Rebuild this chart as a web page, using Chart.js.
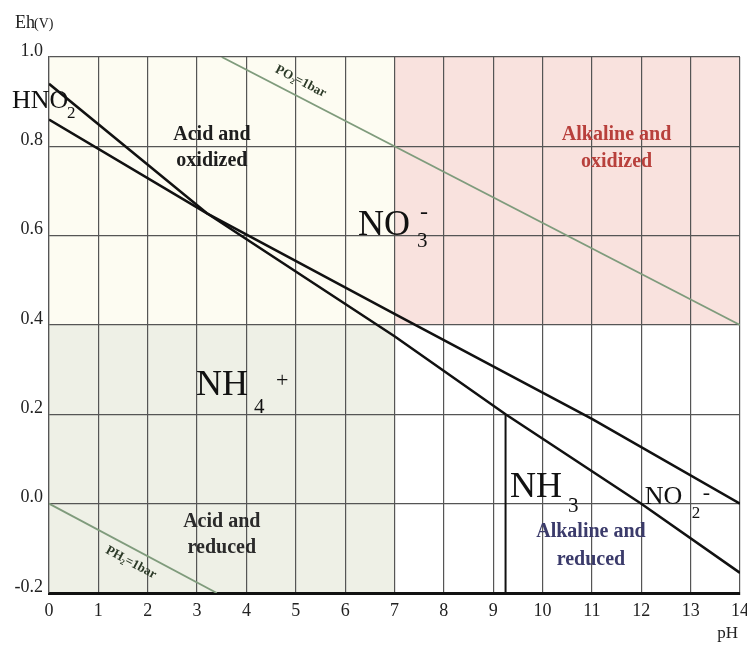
<!DOCTYPE html>
<html>
<head>
<meta charset="utf-8">
<script src="https://cdn.jsdelivr.net/npm/chart.js@4.4.1/dist/chart.umd.min.js"></script>
<style>
  body { margin: 0; background: #fff; }
  #wrap { width: 747px; height: 646px; }
</style>
</head>
<body>
<div id="wrap"><canvas id="eh" width="747" height="646"></canvas></div>
<script>
// tick labels
const phLabels = ["0", "1", "2", "3", "4", "5", "6", "7", "8", "9", "10", "11", "12", "13", "14"];
const ehLabels = ["-0.2", "0.0", "0.2", "0.4", "0.6", "0.8", "1.0"];

// NO3- boundary (NO3-/HNO2 ... NO3-/NO2-)
const nitratePh = [0, 3.2, 7, 11, 14];
const nitrateEh = [0.86, 0.65, 0.425, 0.19, 0.0];
// HNO2 / NH4+ / NO2- / NH3 boundary
const nitritePh = [0, 3.2, 7, 9.25, 12, 14];
const nitriteEh = [0.94, 0.65, 0.375, 0.2, 0.0, -0.155];
// NH4+ / NH3
const ammoniaPh = [9.25, 9.25];
const ammoniaEh = [-0.2, 0.2];
// water limits
const o2Ph = [3.5, 14];
const o2Eh = [1.0, 0.4];
const h2Ph = [0, 3.4];
const h2Eh = [0.0, -0.2];

const zones = [
  { ph: [0, 7], eh: [0.4, 1.0], color: "#fdfcf2" },
  { ph: [0, 7], eh: [-0.2, 0.4], color: "#eef0e6" },
  { ph: [7, 14], eh: [0.4, 1.0], color: "#f9e2de" },
];

const regionText = [
  { lines: ["Acid and", "oxidized"], ph: 3.3, eh: 0.825, gap: 26, color: "#1e1e1e" },
  { lines: ["Acid and", "reduced"], ph: 3.5, eh: -0.041, gap: 26, color: "#2a2a2a" },
  { lines: ["Alkaline and", "oxidized"], ph: 11.5, eh: 0.825, gap: 27, color: "#b8403c" },
  { lines: ["Alkaline and", "reduced"], ph: 10.98, eh: -0.063, gap: 28, color: "#3b3b6b" },
];

const species = [
  { ph: 6.26, eh: 0.601, parts: [["NO", 0, 0, 36], ["3", 59, 12, 21], ["-", 62, -16, 24]] },
  { ph: 2.98, eh: 0.243, parts: [["NH", 0, 0, 36], ["4", 58, 18, 21], ["+", 80, -8, 22]] },
  { ph: 9.34, eh: 0.015, parts: [["NH", 0, 0, 36], ["3", 58, 15, 21]] },
  { ph: 12.07, eh: 0.0, parts: [["NO", 0, 0, 26], ["2", 47, 14, 17], ["-", 58, -5, 22]] },
  { ph: -0.75, eh: 0.886, parts: [["HNO", 0, 0, 26], ["2", 55, 10, 17]] },
];

const gasText = [
  { text: "PO\u2082=1bar", ph: 5.1, eh: 0.945, line: [o2Ph, o2Eh] },
  { text: "PH\u2082=1bar", ph: 1.66, eh: -0.132, line: [h2Ph, h2Eh] },
];

const serif = "'Liberation Serif', 'Times New Roman', serif";

function pts(xs, ys) {
  return xs.map((x, i) => ({ x: x, y: ys[i] }));
}

const zonePlugin = {
  id: "zones",
  beforeDraw(chart) {
    const { ctx, scales } = chart;
    ctx.save();
    zones.forEach((z) => {
      const x0 = scales.x.getPixelForValue(z.ph[0]);
      const x1 = scales.x.getPixelForValue(z.ph[1]);
      const y0 = scales.y.getPixelForValue(z.eh[1]);
      const y1 = scales.y.getPixelForValue(z.eh[0]);
      ctx.fillStyle = z.color;
      ctx.fillRect(x0, y0, x1 - x0, y1 - y0);
    });
    ctx.restore();
  },
};

const textPlugin = {
  id: "texts",
  afterDatasetsDraw(chart) {
    const { ctx, scales, chartArea } = chart;
    const sx = (v) => scales.x.getPixelForValue(v);
    const sy = (v) => scales.y.getPixelForValue(v);
    ctx.save();

    // region captions
    ctx.textAlign = "center";
    ctx.textBaseline = "middle";
    ctx.font = "bold 20px " + serif;
    regionText.forEach((r) => {
      ctx.fillStyle = r.color;
      r.lines.forEach((l, i) => ctx.fillText(l, sx(r.ph), sy(r.eh) + i * r.gap));
    });

    // species
    ctx.textAlign = "left";
    ctx.textBaseline = "alphabetic";
    ctx.fillStyle = "#111";
    species.forEach((s) => {
      const x = sx(s.ph);
      const y = sy(s.eh);
      s.parts.forEach((p) => {
        ctx.font = p[3] + "px " + serif;
        ctx.fillText(p[0], x + p[1], y + p[2]);
      });
    });

    // gas lines captions
    ctx.textAlign = "center";
    ctx.textBaseline = "middle";
    ctx.font = "bold 13px " + serif;
    ctx.fillStyle = "#2c3a28";
    gasText.forEach((g) => {
      const [xs, ys] = g.line;
      const ang = Math.atan2(sy(ys[1]) - sy(ys[0]), sx(xs[1]) - sx(xs[0]));
      ctx.save();
      ctx.translate(sx(g.ph), sy(g.eh));
      ctx.rotate(ang);
      ctx.fillText(g.text, 0, 0);
      ctx.restore();
    });

    // axis titles
    ctx.fillStyle = "#222";
    ctx.textAlign = "left";
    ctx.textBaseline = "alphabetic";
    ctx.font = "18px " + serif;
    ctx.fillText("Eh", chartArea.left - 34, chartArea.top - 29);
    ctx.font = "14px " + serif;
    ctx.fillText("(V)", chartArea.left - 15, chartArea.top - 29);
    ctx.font = "17px " + serif;
    ctx.textAlign = "right";
    ctx.fillText("pH", chartArea.right - 2, chartArea.bottom + 45);
    ctx.restore();
  },
};

const blackLine = { borderColor: "#111", borderWidth: 2.5, pointRadius: 0, showLine: true, fill: false };
const greenLine = { borderColor: "#7f9b7c", borderWidth: 1.8, pointRadius: 0, showLine: true, fill: false };

new Chart(document.querySelector("#eh"), {
  type: "scatter",
  data: {
    datasets: [
      Object.assign({ label: "NO3-", data: pts(nitratePh, nitrateEh) }, blackLine),
      Object.assign({ label: "NO2-", data: pts(nitritePh, nitriteEh) }, blackLine),
      Object.assign({ label: "NH3", data: pts(ammoniaPh, ammoniaEh) }, blackLine, { borderWidth: 2 }),
      Object.assign({ label: "O2", data: pts(o2Ph, o2Eh) }, greenLine),
      Object.assign({ label: "H2", data: pts(h2Ph, h2Eh) }, greenLine),
    ],
  },
  options: {
    responsive: false,
    animation: false,
    layout: { padding: { top: 57, right: 7, left: 0, bottom: 0 } },
    plugins: { legend: { display: false }, tooltip: { enabled: false } },
    scales: {
      x: {
        type: "linear",
        min: 0,
        max: 14,
        afterBuildTicks: (s) => { s.ticks = phLabels.map((l) => ({ value: +l })); },
        afterFit: (s) => { s.height = 53; s.paddingLeft = 0; s.paddingRight = 0; },
        ticks: {
          callback: (v, i) => phLabels[i],
          font: { family: serif, size: 18 },
          color: "#222",
          padding: 7,
          maxRotation: 0,
        },
        grid: { color: "#555", lineWidth: 1.2, drawTicks: false },
        border: { color: "#111", width: 3 },
      },
      y: {
        type: "linear",
        min: -0.2,
        max: 1.0,
        afterBuildTicks: (s) => { s.ticks = ehLabels.map((l) => ({ value: parseFloat(l) })); },
        afterFit: (s) => { s.width = 49; s.paddingTop = 0; s.paddingBottom = 0; },
        ticks: {
          callback: (v, i) => ehLabels[i],
          font: { family: serif, size: 18 },
          color: "#222",
          padding: 6,
          labelOffset: -6,
        },
        grid: { color: "#555", lineWidth: 1.2, drawTicks: false },
        border: { color: "#555", width: 1.2 },
      },
    },
  },
  plugins: [zonePlugin, textPlugin],
});
</script>
</body>
</html>
